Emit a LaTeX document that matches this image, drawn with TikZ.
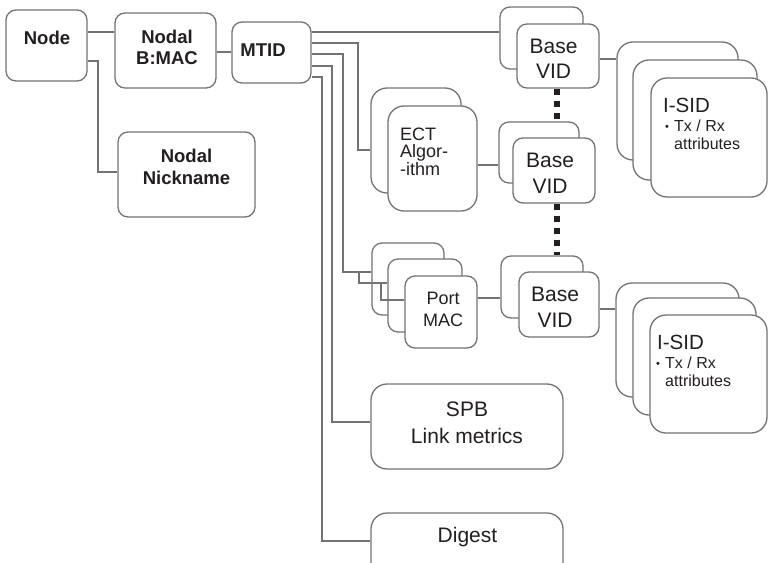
\documentclass[tikz,border=0pt]{standalone}
\usepackage{fontspec}
\setmainfont{Liberation Sans}
\definecolor{edge}{HTML}{737373}
\definecolor{ink}{HTML}{231F20}
\newcommand{\bul}{\makebox[10pt][l]{\hspace*{1pt}\raisebox{1.5pt}{\fontsize{11}{11}\selectfont•}}}
\tikzset{
    card/.style={draw=edge, fill=white, line width=1.3pt, rounded corners=10pt, inner sep=0pt},
    bigcard/.style={card, rounded corners=16pt},
    wire/.style={draw=edge, line width=1.3pt},
    dots/.style={draw=ink, line width=6pt, dash pattern=on 6pt off 6pt},
    bold/.style={font=\fontsize{18.5}{21.5}\selectfont\bfseries, text=ink, align=center, inner sep=0pt},
    big/.style={font=\fontsize{21}{25.5}\selectfont, text=ink, align=center, inner sep=0pt},
    mid/.style={font=\fontsize{18}{17.5}\selectfont, text=ink, inner sep=0pt},
    small/.style={font=\fontsize{16}{17.5}\selectfont, text=ink, align=left, inner sep=0pt},
}
\begin{document}
\begin{tikzpicture}[x=1pt, y=-1pt]
    \useasboundingbox (0,0) rectangle (768,562);
    \clip (0,0) rectangle (768,562);

    % Knoten links
    \node[card, minimum width=81, minimum height=71] (nd) at (46.5,45.5) {};
    \node[bold] (ndt) at (47,38) {Node};
    \node[card, minimum width=101, minimum height=75] (bmac) at (165.5,50.5) {};
    \node[bold] (bmact) at (167,47.5) {Nodal\\B:MAC};
    \node[card, minimum width=79, minimum height=61] (mtid) at (271.5,52.5) {};
    \node[bold] (mtidt) at (263,50) {MTID};
    \node[card, minimum width=137, minimum height=85] (nick) at (186.5,174.5) {};
    \node[bold] (nickt) at (186.5,167) {Nodal\\Nickname};

    % Base VID Stapel
    \node[card, minimum width=83, minimum height=62] (vid1b) at (541.5,38) {};
    \node[card, minimum width=82, minimum height=64] (vid1) at (558,56) {};
    \node[big] (vid1t) at (553.5,59) {Base\\VID};
    \node[card, minimum width=80, minimum height=61] (vid2b) at (539,152.5) {};
    \node[card, minimum width=82, minimum height=65] (vid2) at (554,170.5) {};
    \node[big] (vid2t) at (550,173.5) {Base\\VID};
    \node[card, minimum width=82, minimum height=62] (vid3b) at (542,287) {};
    \node[card, minimum width=80, minimum height=65] (vid3) at (559,304.5) {};
    \node[big] (vid3t) at (555,307.5) {Base\\VID};
    \draw[dots] (vid1.south -| 557,0) -- (vid2b.north -| 557,0);
    \draw[dots] (vid2.south -| 557,0) -- (vid3b.north -| 557,0);

    % ECT
    \node[bigcard, minimum width=90, minimum height=105] (ectb) at (416,140.5) {};
    \node[bigcard, minimum width=89, minimum height=105] (ect) at (432.5,158.5) {};
    \node[mid, align=left, anchor=west] (ectt) at (400,151.5) {ECT\\Algor-\\-ithm};

    % Port MAC
    \node[card, minimum width=72, minimum height=72] (portb) at (408,279) {};
    \node[card, minimum width=74, minimum height=73] (portm) at (425,295.5) {};
    \node[card, minimum width=72, minimum height=72] (port) at (441,312) {};
    \node[mid, align=center, font=\fontsize{18}{22}\selectfont] (portt) at (443,309) {Port\\MAC};

    % I-SID oben
    \node[bigcard, minimum width=121, minimum height=118] (isid1b) at (677.5,101) {};
    \node[bigcard, minimum width=124, minimum height=120] (isid1m) at (695,120) {};
    \node[bigcard, minimum width=116, minimum height=119] (isid1) at (709,137.5) {};
    \node[font=\fontsize{20.5}{24}\selectfont, text=ink, inner sep=0pt, anchor=west] (isid1t) at (663,105) {I-SID};
    \node[small, anchor=west] (isid1a) at (664,135) {\bul Tx / Rx\\\hspace*{10pt}attributes};

    % I-SID unten
    \node[bigcard, minimum width=123, minimum height=114] (isid2b) at (677.5,340) {};
    \node[bigcard, minimum width=123, minimum height=117] (isid2m) at (694.5,356.5) {};
    \node[bigcard, minimum width=117, minimum height=118] (isid2) at (708.5,374) {};
    \node[font=\fontsize{20.5}{24}\selectfont, text=ink, inner sep=0pt, anchor=west] (isid2t) at (657,342) {I-SID};
    \node[small, anchor=west] (isid2a) at (655,372) {\bul Tx / Rx\\\hspace*{10pt}attributes};

    % SPB, Digest
    \node[bigcard, minimum width=192, minimum height=85] (spb) at (467,426.5) {};
    \node[big, font=\fontsize{21}{27}\selectfont] (spbt) at (467,422.5) {SPB\\Link metrics};
    \node[bigcard, minimum width=192, minimum height=70] (dig) at (467,548) {};
    \node[big] (digt) at (467.5,537) {Digest};

    % Verbindungen
    \draw[wire] (nd.east |- 0,32) -- (bmac.west |- 0,32);
    \draw[wire] (nd.east |- 0,61) -| (98,172) -- (nick.west |- 0,172);
    \draw[wire] (bmac.east |- 0,52) -- (mtid.west |- 0,52);
    \draw[wire] (mtid.east |- 0,32) -- (vid1b.west |- 0,32);
    \draw[wire] (mtid.east |- 0,43) -| (358,150) -- (ectb.west |- 0,150);
    \draw[wire] (mtid.east |- 0,54) -| (343,272) -- (portb.west |- 0,272);
    \draw[wire] (359,272) |- (portm.west |- 0,283);
    \draw[wire] (381,283) |- (port.west |- 0,300);
    \draw[wire] (mtid.east |- 0,66) -| (332,422) -- (spb.west |- 0,422);
    \draw[wire] (mtid.east |- 0,77) -| (322,541) -- (dig.west |- 0,541);
    \draw[wire] (vid1.east |- 0,59) -- (isid1b.west |- 0,59);
    \draw[wire] (ect.east |- 0,165) -- (vid2b.west |- 0,165);
    \draw[wire] (port.east |- 0,298) -- (vid3b.west |- 0,298);
    \draw[wire] (vid3.east |- 0,309) -- (isid2b.west |- 0,309);
\end{tikzpicture}
\end{document}
